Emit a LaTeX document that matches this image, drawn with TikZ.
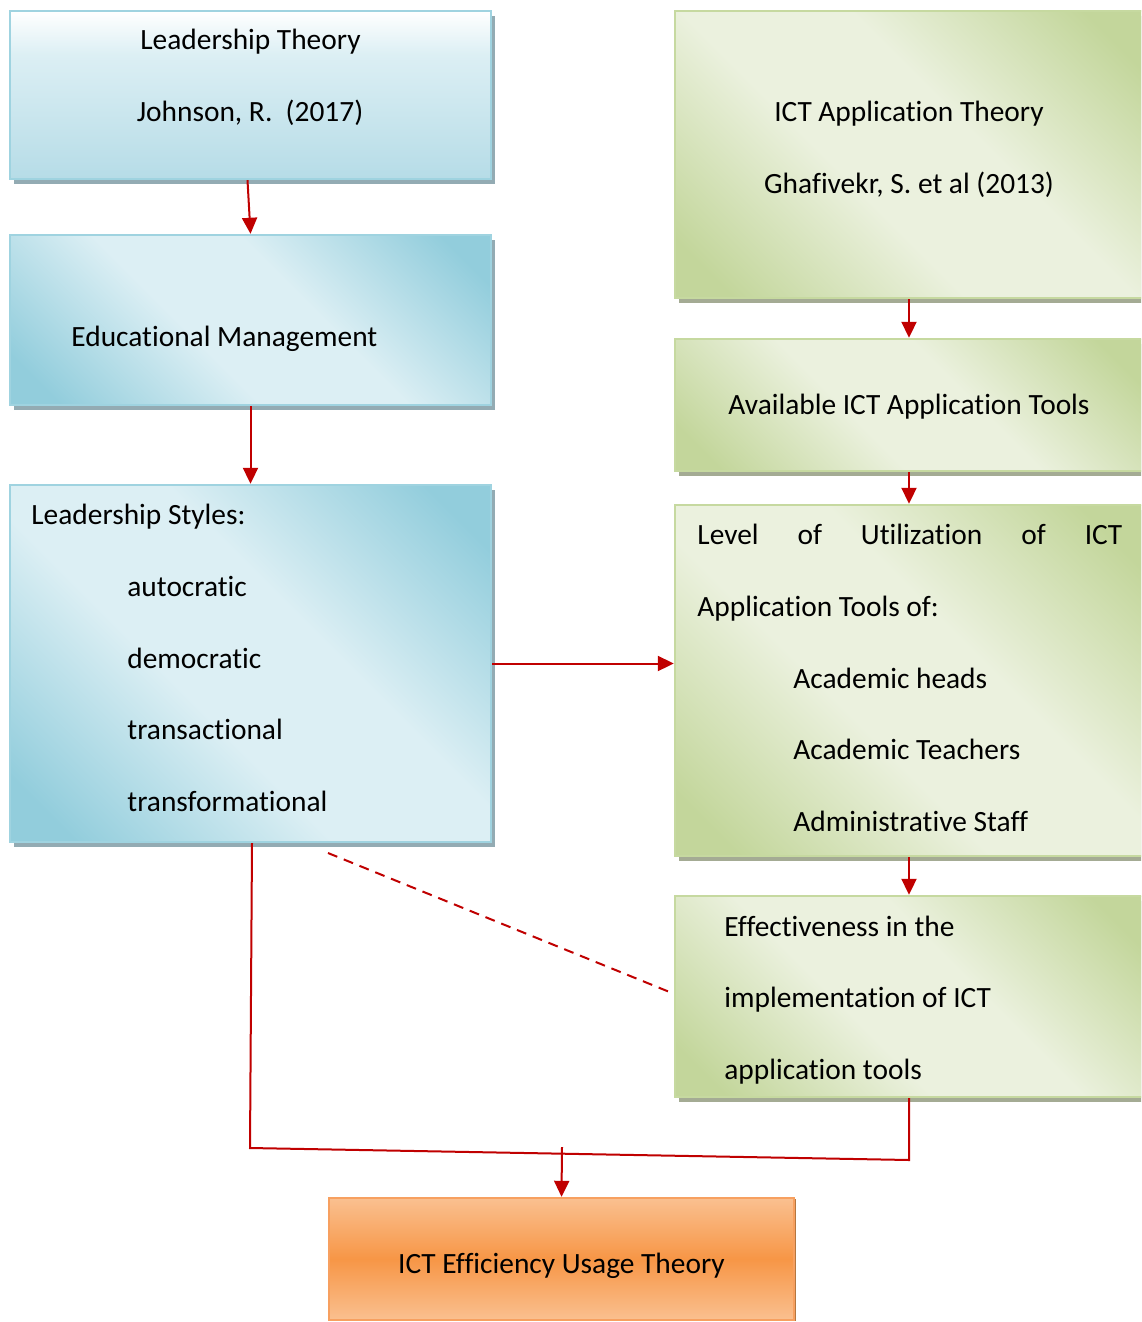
\documentclass[tikz,border=0pt]{standalone}
\usepackage{fontspec}
\setmainfont{Carlito}[Ligatures=NoCommon]
\usetikzlibrary{arrows.meta,shadows}
\definecolor{bdark}{HTML}{92CDDC}
\definecolor{blight}{HTML}{DCEFF4}
\definecolor{bmid}{HTML}{B6DCE7}
\definecolor{bline}{HTML}{9FD3E0}
\definecolor{bshadow}{HTML}{93ABB3}
\definecolor{gdark}{HTML}{C3D69B}
\definecolor{glight}{HTML}{EBF1DE}
\definecolor{gline}{HTML}{C6D9A0}
\definecolor{gshadow}{HTML}{A4AB94}
\definecolor{odark}{HTML}{F79646}
\definecolor{olight}{HTML}{FAC090}
\definecolor{oline}{HTML}{F7A060}
\definecolor{oshadow}{HTML}{B5773F}
\definecolor{arred}{HTML}{C00000}
\pgfdeclareverticalshading{bdiag}{100bp}{color(0bp)=(bdark); color(20bp)=(bdark); color(42bp)=(blight); color(58bp)=(blight); color(80bp)=(bdark); color(100bp)=(bdark)}
\pgfdeclareverticalshading{gdiag}{100bp}{color(0bp)=(gdark); color(20bp)=(gdark); color(42bp)=(glight); color(58bp)=(glight); color(80bp)=(gdark); color(100bp)=(gdark)}
\pgfdeclareverticalshading{overt}{100bp}{color(0bp)=(olight); color(25bp)=(olight); color(50bp)=(odark); color(75bp)=(olight); color(100bp)=(olight)}
\pgfdeclareverticalshading{avert}{100bp}{color(0bp)=(bmid); color(25bp)=(bmid); color(62bp)=(blight); color(75bp)=(white); color(100bp)=(white)}
\begin{document}
\begin{tikzpicture}[x=0.5pt,y=-0.5pt,
  font=\fontsize{14.7pt}{17pt}\selectfont,
  box/.style={rectangle, inner sep=0pt, line width=1.2pt},
  bluebox/.style={box, draw=bline, drop shadow={shadow xshift=2pt, shadow yshift=-2.5pt, fill=bshadow, opacity=1}},
  bluediag/.style={bluebox, shading=bdiag, shading angle=-45},
  greenbox/.style={box, draw=gline, shading=gdiag, shading angle=-45, drop shadow={shadow xshift=2pt, shadow yshift=-2.5pt, fill=gshadow, opacity=1}},
  orangebox/.style={box, draw=oline, shading=overt, drop shadow={shadow xshift=0.8pt, shadow yshift=-0.5pt, fill=oshadow, opacity=1}},
  txt/.style={inner sep=0pt, anchor=base west},
  ctxt/.style={inner sep=0pt, anchor=base},
  conn/.style={draw=arred, line width=1pt},
  arr/.style={conn, -{Triangle[length=8pt,width=7.5pt]}},
  dashline/.style={conn, dashed, dash pattern=on 5pt off 3.5pt}
]
\clip (0,0) rectangle (1141,1322);
\fill[white] (0,0) rectangle (1141,1322);

% boxes
\node[bluebox, shading=avert, minimum width=240.5pt, minimum height=84pt] (A) at (250.5,95) {};
\node[bluediag, minimum width=240.5pt, minimum height=85pt] (B) at (250.5,320) {};
\node[bluediag, minimum width=240.5pt, minimum height=178.5pt] (C) at (250.5,663.5) {};
\node[greenbox, minimum width=234pt, minimum height=143.5pt] (D) at (909,154.5) {};
\node[greenbox, minimum width=234pt, minimum height=66pt] (E) at (909,405) {};
\node[greenbox, minimum width=234pt, minimum height=175.5pt] (F) at (909,680.5) {};
\node[greenbox, minimum width=234pt, minimum height=100.5pt] (G) at (909,996.5) {};
\node[orangebox, minimum width=232.5pt, minimum height=61pt] (H) at (561.5,1259) {};

% texts
\node[ctxt] (a1) at (250.5,50) {Leadership Theory};
\node[ctxt] (a2) at (250,121) {Johnson, R.\ \ (2017)};
\node[txt] (b1) at (71,346) {Educational Management};
\node[txt] (c1) at (31,524) {Leadership Styles:};
\node[txt] (c2) at (127,596) {autocratic};
\node[txt] (c3) at (127,668) {democratic};
\node[txt] (c4) at (127,739) {transactional};
\node[txt] (c5) at (127,811) {transformational};
\node[ctxt] (d1t) at (909,121) {ICT Application Theory};
\node[ctxt] (d2t) at (909,193) {Ghafivekr, S. et al (2013)};
\node[ctxt] (e1) at (909,414) {Available ICT Application Tools};
\node[txt] (f1) at (697,544) {\hbox to 212.5pt{Level\hfill of\hfill Utilization\hfill of\hfill ICT}};
\node[txt] (f2) at (697,616) {Application Tools of:};
\node[txt] (f3) at (793,688) {Academic heads};
\node[txt] (f4) at (793,759) {Academic Teachers};
\node[txt] (f5) at (793,831) {Administrative Staff};
\node[txt] (g1) at (724,936) {Effectiveness in the};
\node[txt] (g2) at (724,1007) {implementation of ICT};
\node[txt] (g3) at (724,1079) {application tools};
\node[ctxt] (h1) at (561.5,1273) {ICT Efficiency Usage Theory};

% connectors
\draw[arr] ([xshift=-1.5pt]A.south) -- (B.north);
\draw[arr] (B.south) -- (C.north);
\draw[arr] (D.south) -- (E.north);
\draw[arr] (E.south) -- (F.north);
\draw[arr] (F.south) -- (G.north);
\draw[arr] (C.east) -- (C.east -| F.west);
\coordinate (ds) at (328,853);
\coordinate (de) at (672,993);
\draw[dashline] (ds) -- (de);
\coordinate (j1) at (250,1148);
\coordinate (j2) at (909,1160);
\coordinate (jm) at (562,1147);
\draw[conn] ([xshift=0.75pt]C.south) -- (j1) -- (j2) -- (G.south);
\draw[arr] (jm) -- (H.north);
\end{tikzpicture}
\end{document}
